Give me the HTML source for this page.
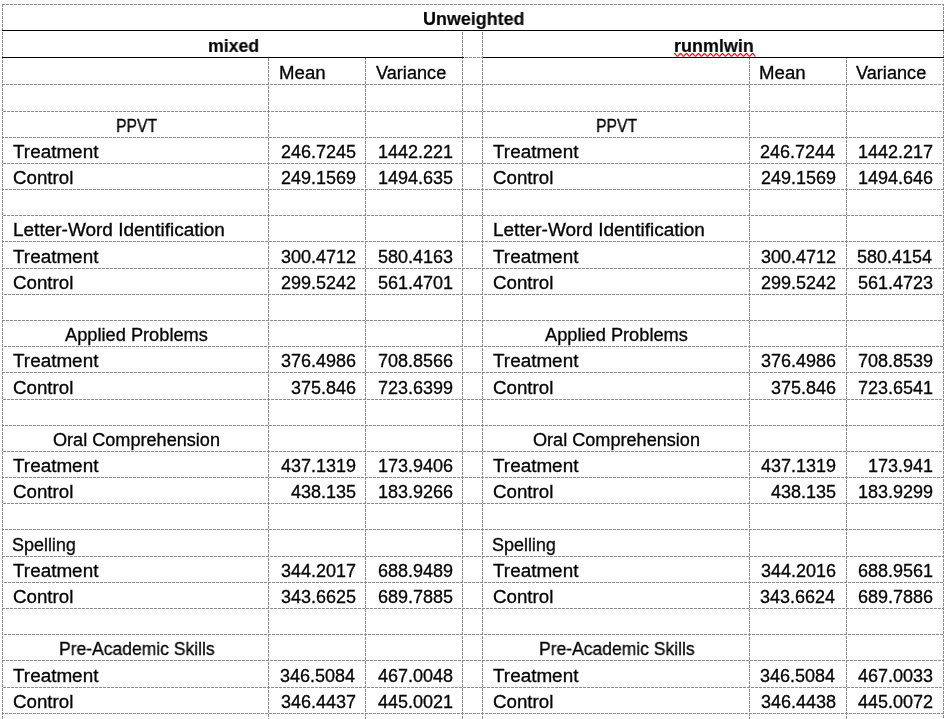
<!DOCTYPE html><html><head><meta charset="utf-8"><style>
html,body{margin:0;padding:0;background:#fff;width:951px;height:719px;overflow:hidden}
.t{position:absolute;-webkit-font-smoothing:antialiased;will-change:transform;font-family:"Liberation Sans",sans-serif;font-size:18px;line-height:40px;white-space:pre;color:#000;transform-origin:0 0;-webkit-text-stroke:0.3px #000}
.b{font-weight:bold;-webkit-text-stroke:0.15px #000}
svg{position:absolute;left:0;top:0}
</style></head><body>
<svg width="951" height="719" shape-rendering="crispEdges"><defs><pattern id="p" patternUnits="userSpaceOnUse" x="0" y="0" width="4" height="4"><g fill="#8c8c8c"><rect x="0" y="0" width="1" height="1"/><rect x="2" y="0" width="1" height="1"/><rect x="3" y="0" width="1" height="1"/><rect x="1" y="1" width="1" height="1"/><rect x="2" y="1" width="1" height="1"/><rect x="3" y="1" width="1" height="1"/><rect x="0" y="2" width="1" height="1"/><rect x="1" y="2" width="1" height="1"/><rect x="2" y="2" width="1" height="1"/><rect x="0" y="3" width="1" height="1"/><rect x="1" y="3" width="1" height="1"/><rect x="3" y="3" width="1" height="1"/></g></pattern></defs><rect x="2" y="4" width="942" height="1" fill="url(#p)"/><rect x="2" y="30" width="942" height="1" fill="url(#p)"/><rect x="2" y="57" width="942" height="1" fill="url(#p)"/><rect x="2" y="84" width="942" height="1" fill="url(#p)"/><rect x="2" y="111" width="942" height="1" fill="url(#p)"/><rect x="2" y="137" width="942" height="1" fill="url(#p)"/><rect x="2" y="163" width="942" height="1" fill="url(#p)"/><rect x="2" y="189" width="942" height="1" fill="url(#p)"/><rect x="2" y="215" width="942" height="1" fill="url(#p)"/><rect x="2" y="241" width="942" height="1" fill="url(#p)"/><rect x="2" y="268" width="942" height="1" fill="url(#p)"/><rect x="2" y="294" width="942" height="1" fill="url(#p)"/><rect x="2" y="320" width="942" height="1" fill="url(#p)"/><rect x="2" y="346" width="942" height="1" fill="url(#p)"/><rect x="2" y="372" width="942" height="1" fill="url(#p)"/><rect x="2" y="399" width="942" height="1" fill="url(#p)"/><rect x="2" y="425" width="942" height="1" fill="url(#p)"/><rect x="2" y="451" width="942" height="1" fill="url(#p)"/><rect x="2" y="477" width="942" height="1" fill="url(#p)"/><rect x="2" y="503" width="942" height="1" fill="url(#p)"/><rect x="2" y="529" width="942" height="1" fill="url(#p)"/><rect x="2" y="556" width="942" height="1" fill="url(#p)"/><rect x="2" y="582" width="942" height="1" fill="url(#p)"/><rect x="2" y="608" width="942" height="1" fill="url(#p)"/><rect x="2" y="634" width="942" height="1" fill="url(#p)"/><rect x="2" y="660" width="942" height="1" fill="url(#p)"/><rect x="2" y="687" width="942" height="1" fill="url(#p)"/><rect x="2" y="713" width="942" height="1" fill="url(#p)"/><rect x="2" y="4" width="1" height="715" fill="url(#p)"/><rect x="268" y="57" width="1" height="662" fill="url(#p)"/><rect x="365" y="57" width="1" height="662" fill="url(#p)"/><rect x="462" y="30" width="1" height="689" fill="url(#p)"/><rect x="482" y="30" width="1" height="689" fill="url(#p)"/><rect x="749" y="57" width="1" height="662" fill="url(#p)"/><rect x="846" y="57" width="1" height="662" fill="url(#p)"/><rect x="943" y="4" width="1" height="715" fill="url(#p)"/><rect x="2" y="30" width="942" height="1" fill="#000"/><rect x="2" y="57" width="462" height="1" fill="#000"/><rect x="483" y="57" width="461" height="1" fill="#000"/><polyline points="674.50,53.55 675.00,53.73 675.50,54.23 676.00,54.90 676.50,55.57 677.00,56.07 677.50,56.25 678.00,56.07 678.50,55.57 679.00,54.90 679.50,54.23 680.00,53.73 680.50,53.55 681.00,53.73 681.50,54.23 682.00,54.90 682.50,55.57 683.00,56.07 683.50,56.25 684.00,56.07 684.50,55.57 685.00,54.90 685.50,54.23 686.00,53.73 686.50,53.55 687.00,53.73 687.50,54.23 688.00,54.90 688.50,55.57 689.00,56.07 689.50,56.25 690.00,56.07 690.50,55.58 691.00,54.90 691.50,54.22 692.00,53.73 692.50,53.55 693.00,53.73 693.50,54.22 694.00,54.90 694.50,55.57 695.00,56.07 695.50,56.25 696.00,56.07 696.50,55.58 697.00,54.90 697.50,54.23 698.00,53.73 698.50,53.55 699.00,53.73 699.50,54.22 700.00,54.90 700.50,55.57 701.00,56.07 701.50,56.25 702.00,56.07 702.50,55.57 703.00,54.90 703.50,54.23 704.00,53.73 704.50,53.55 705.00,53.73 705.50,54.23 706.00,54.90 706.50,55.57 707.00,56.07 707.50,56.25 708.00,56.07 708.50,55.58 709.00,54.90 709.50,54.23 710.00,53.73 710.50,53.55 711.00,53.73 711.50,54.23 712.00,54.90 712.50,55.57 713.00,56.07 713.50,56.25 714.00,56.07 714.50,55.58 715.00,54.90 715.50,54.23 716.00,53.73 716.50,53.55 717.00,53.73 717.50,54.23 718.00,54.90 718.50,55.57 719.00,56.07 719.50,56.25 720.00,56.07 720.50,55.58 721.00,54.90 721.50,54.23 722.00,53.73 722.50,53.55 723.00,53.73 723.50,54.23 724.00,54.90 724.50,55.57 725.00,56.07 725.50,56.25 726.00,56.07 726.50,55.58 727.00,54.90 727.50,54.22 728.00,53.73 728.50,53.55 729.00,53.73 729.50,54.22 730.00,54.90 730.50,55.57 731.00,56.07 731.50,56.25 732.00,56.07 732.50,55.58 733.00,54.90 733.50,54.22 734.00,53.73 734.50,53.55 735.00,53.73 735.50,54.22 736.00,54.90 736.50,55.57 737.00,56.07 737.50,56.25 738.00,56.07 738.50,55.58 739.00,54.90 739.50,54.23 740.00,53.73 740.50,53.55 741.00,53.73 741.50,54.22 742.00,54.90 742.50,55.57 743.00,56.07 743.50,56.25 744.00,56.07 744.50,55.58 745.00,54.90 745.50,54.22 746.00,53.73 746.50,53.55 747.00,53.73 747.50,54.23 748.00,54.90 748.50,55.58 749.00,56.07 749.50,56.25 750.00,56.07 750.50,55.58 751.00,54.90 751.50,54.23 752.00,53.73 752.50,53.55 753.00,53.73 753.50,54.22 754.00,54.90 754.50,55.57 755.00,56.07" fill="none" stroke="#f00" stroke-width="1.15" stroke-linecap="round" shape-rendering="auto"/></svg>
<div class="t b" style="left:422.81px;top:-1px;transform:scaleX(0.9950)">Unweighted</div>
<div class="t b" style="left:207.92px;top:26px;transform:scaleX(0.9840)">mixed</div>
<div class="t b" style="left:673.50px;top:26px;transform:scaleX(0.9974)">runmlwin</div>
<div class="t" style="left:279.17px;top:53px;transform:scaleX(1.0349)">Mean</div>
<div class="t" style="left:376.20px;top:53px;transform:scaleX(1.0072)">Variance</div>
<div class="t" style="left:759.17px;top:53px;transform:scaleX(1.0349)">Mean</div>
<div class="t" style="left:856.20px;top:53px;transform:scaleX(1.0072)">Variance</div>
<div class="t" style="left:115.93px;top:106px;transform:scaleX(0.8739)">PPVT</div>
<div class="t" style="left:13.00px;top:132px;transform:scaleX(1.0494)">Treatment</div>
<div class="t" style="left:12.86px;top:158px;transform:scaleX(1.0393)">Control</div>
<div class="t" style="left:595.93px;top:106px;transform:scaleX(0.8739)">PPVT</div>
<div class="t" style="left:493.00px;top:132px;transform:scaleX(1.0494)">Treatment</div>
<div class="t" style="left:492.86px;top:158px;transform:scaleX(1.0393)">Control</div>
<div class="t" style="left:13.09px;top:210px;transform:scaleX(1.0550)">Letter-Word Identification</div>
<div class="t" style="left:13.00px;top:237px;transform:scaleX(1.0494)">Treatment</div>
<div class="t" style="left:12.86px;top:263px;transform:scaleX(1.0393)">Control</div>
<div class="t" style="left:493.09px;top:210px;transform:scaleX(1.0550)">Letter-Word Identification</div>
<div class="t" style="left:493.00px;top:237px;transform:scaleX(1.0494)">Treatment</div>
<div class="t" style="left:492.86px;top:263px;transform:scaleX(1.0393)">Control</div>
<div class="t" style="left:65.20px;top:315px;transform:scaleX(1.0129)">Applied Problems</div>
<div class="t" style="left:13.00px;top:341px;transform:scaleX(1.0494)">Treatment</div>
<div class="t" style="left:12.86px;top:368px;transform:scaleX(1.0393)">Control</div>
<div class="t" style="left:545.20px;top:315px;transform:scaleX(1.0129)">Applied Problems</div>
<div class="t" style="left:493.00px;top:341px;transform:scaleX(1.0494)">Treatment</div>
<div class="t" style="left:492.86px;top:368px;transform:scaleX(1.0393)">Control</div>
<div class="t" style="left:52.79px;top:420px;transform:scaleX(1.0055)">Oral Comprehension</div>
<div class="t" style="left:13.00px;top:446px;transform:scaleX(1.0494)">Treatment</div>
<div class="t" style="left:12.86px;top:472px;transform:scaleX(1.0393)">Control</div>
<div class="t" style="left:532.79px;top:420px;transform:scaleX(1.0055)">Oral Comprehension</div>
<div class="t" style="left:493.00px;top:446px;transform:scaleX(1.0494)">Treatment</div>
<div class="t" style="left:492.86px;top:472px;transform:scaleX(1.0393)">Control</div>
<div class="t" style="left:12.40px;top:525px;transform:scaleX(0.9968)">Spelling</div>
<div class="t" style="left:13.00px;top:551px;transform:scaleX(1.0494)">Treatment</div>
<div class="t" style="left:12.86px;top:577px;transform:scaleX(1.0393)">Control</div>
<div class="t" style="left:492.40px;top:525px;transform:scaleX(0.9968)">Spelling</div>
<div class="t" style="left:493.00px;top:551px;transform:scaleX(1.0494)">Treatment</div>
<div class="t" style="left:492.86px;top:577px;transform:scaleX(1.0393)">Control</div>
<div class="t" style="left:58.83px;top:629px;transform:scaleX(0.9728)">Pre-Academic Skills</div>
<div class="t" style="left:13.00px;top:656px;transform:scaleX(1.0494)">Treatment</div>
<div class="t" style="left:12.86px;top:682px;transform:scaleX(1.0393)">Control</div>
<div class="t" style="left:538.83px;top:629px;transform:scaleX(0.9728)">Pre-Academic Skills</div>
<div class="t" style="left:493.00px;top:656px;transform:scaleX(1.0494)">Treatment</div>
<div class="t" style="left:492.86px;top:682px;transform:scaleX(1.0393)">Control</div>
<div class="t" style="left:281.40px;top:132px">246.7245</div>
<div class="t" style="left:378.00px;top:132px">1442.221</div>
<div class="t" style="left:760.40px;top:132px">246.7244</div>
<div class="t" style="left:858.00px;top:132px">1442.217</div>
<div class="t" style="left:281.40px;top:158px">249.1569</div>
<div class="t" style="left:378.00px;top:158px">1494.635</div>
<div class="t" style="left:761.40px;top:158px">249.1569</div>
<div class="t" style="left:858.00px;top:158px">1494.646</div>
<div class="t" style="left:281.40px;top:237px">300.4712</div>
<div class="t" style="left:378.00px;top:237px">580.4163</div>
<div class="t" style="left:761.40px;top:237px">300.4712</div>
<div class="t" style="left:857.00px;top:237px">580.4154</div>
<div class="t" style="left:281.40px;top:263px">299.5242</div>
<div class="t" style="left:378.00px;top:263px">561.4701</div>
<div class="t" style="left:761.40px;top:263px">299.5242</div>
<div class="t" style="left:858.00px;top:263px">561.4723</div>
<div class="t" style="left:281.40px;top:341px">376.4986</div>
<div class="t" style="left:378.00px;top:341px">708.8566</div>
<div class="t" style="left:761.40px;top:341px">376.4986</div>
<div class="t" style="left:858.00px;top:341px">708.8539</div>
<div class="t" style="left:291.40px;top:368px">375.846</div>
<div class="t" style="left:378.00px;top:368px">723.6399</div>
<div class="t" style="left:771.40px;top:368px">375.846</div>
<div class="t" style="left:858.00px;top:368px">723.6541</div>
<div class="t" style="left:281.40px;top:446px">437.1319</div>
<div class="t" style="left:378.00px;top:446px">173.9406</div>
<div class="t" style="left:761.40px;top:446px">437.1319</div>
<div class="t" style="left:868.00px;top:446px">173.941</div>
<div class="t" style="left:291.40px;top:472px">438.135</div>
<div class="t" style="left:378.00px;top:472px">183.9266</div>
<div class="t" style="left:771.40px;top:472px">438.135</div>
<div class="t" style="left:858.00px;top:472px">183.9299</div>
<div class="t" style="left:281.40px;top:551px">344.2017</div>
<div class="t" style="left:378.00px;top:551px">688.9489</div>
<div class="t" style="left:761.40px;top:551px">344.2016</div>
<div class="t" style="left:858.00px;top:551px">688.9561</div>
<div class="t" style="left:281.40px;top:577px">343.6625</div>
<div class="t" style="left:378.00px;top:577px">689.7885</div>
<div class="t" style="left:760.40px;top:577px">343.6624</div>
<div class="t" style="left:858.00px;top:577px">689.7886</div>
<div class="t" style="left:280.40px;top:656px">346.5084</div>
<div class="t" style="left:378.00px;top:656px">467.0048</div>
<div class="t" style="left:760.40px;top:656px">346.5084</div>
<div class="t" style="left:858.00px;top:656px">467.0033</div>
<div class="t" style="left:281.40px;top:682px">346.4437</div>
<div class="t" style="left:378.00px;top:682px">445.0021</div>
<div class="t" style="left:761.40px;top:682px">346.4438</div>
<div class="t" style="left:858.00px;top:682px">445.0072</div>
</body></html>
